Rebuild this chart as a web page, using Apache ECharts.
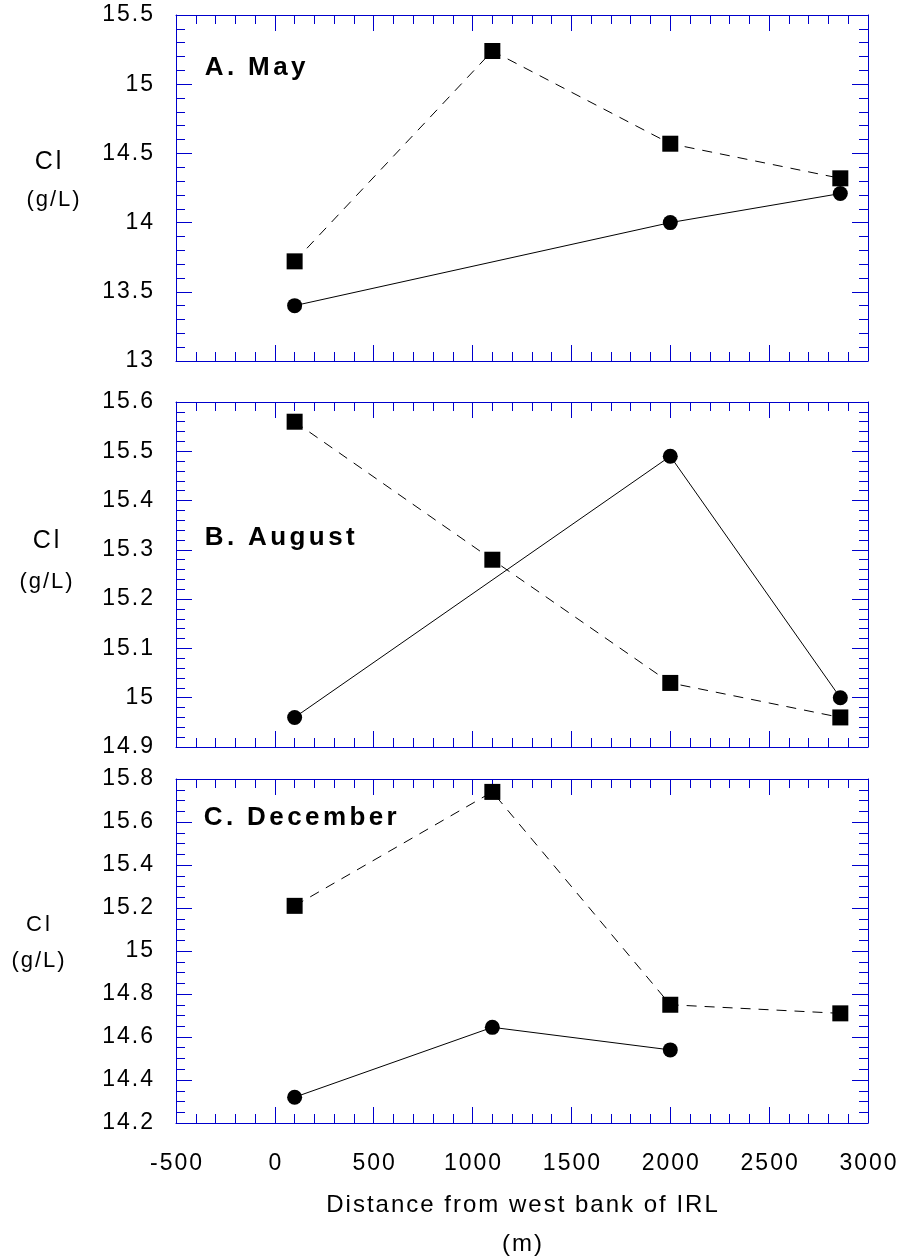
<!DOCTYPE html>
<html>
<head>
<meta charset="utf-8">
<script src="https://cdn.jsdelivr.net/npm/echarts@6/dist/echarts.min.js"></script>
<style>
  html, body { margin: 0; padding: 0; background: #ffffff; }
  #chart { width: 902px; height: 1260px; }
</style>
</head>
<body>
<div id="chart"></div>
<script>
// Sampling stations across the lagoon (m from the west bank)
const distance = [100, 1100, 2000, 2860];

// Cl (g/L), squares = dashed series, circles = solid series
const maySquares = [13.72, 15.24, 14.57, 14.32];
const mayCircles = [13.40, null, 14.00, 14.21];
const augSquares = [15.56, 15.28, 15.03, 14.96];
const augCircles = [14.96, null, 15.49, 15.00];
const decSquares = [15.21, 15.74, 14.75, 14.71];
const decCircles = [14.32, 14.645, 14.54, null];

const panelTitles = ['A. May', 'B. August', 'C. December'];
const yName = 'Cl';
const yUnit = '(g/L)';
const xName = 'Distance from west bank of IRL';
const xUnit = '(m)';

// Axis ranges for each panel
const xRange = { min: -500, max: 3000, interval: 500 };
const yRanges = [
  { min: 13, max: 15.5, interval: 0.5, minor: 5 },
  { min: 14.9, max: 15.6, interval: 0.1, minor: 5 },
  { min: 14.2, max: 15.8, interval: 0.2, minor: 4 }
];

const FONT = 'Liberation Sans, Arial, Helvetica, sans-serif';
const AXIS_BLUE = '#0000cc';

// Spread characters apart with rich-text padding (letter spacing)
function spaced(text, style) {
  return text.split('').map(function (c) { return '{' + style + '|' + c + '}'; }).join('');
}

function fmt(v) {
  return String(parseFloat(Number(v).toFixed(3)));
}

const richStyles = {
  t: { fontFamily: FONT, fontSize: 23, color: '#000', padding: [0, 1, 0, 1] },
  n: { fontFamily: FONT, fontSize: 24, color: '#000', padding: [0, 1, 0, 1], lineHeight: 39 },
  h: { fontFamily: FONT, fontSize: 26, fontWeight: 'bold', color: '#000', padding: [0, 1.7, 0, 1.7] },
  c: { fontFamily: FONT, fontSize: 25, color: '#000', padding: [0, 1.5, 0, 1.5] },
  c2: { fontFamily: FONT, fontSize: 22, color: '#000', padding: [0, 1.5, 0, 1.5] },
  u: { fontFamily: FONT, fontSize: 22, color: '#000', padding: [0, 1, 0, 1] }
};

// Three stacked panels; fixed boxes, no automatic shrinking for labels
const grids = [
  { left: 176, top: 15, width: 692, height: 346, outerBoundsMode: 'none', containLabel: false },
  { left: 176, top: 402, width: 692, height: 345, outerBoundsMode: 'none', containLabel: false },
  { left: 176, top: 779, width: 692, height: 344, outerBoundsMode: 'none', containLabel: false }
];

const tickLine = { color: AXIS_BLUE, width: 1 };

function xAxisFor(i, position, labelled) {
  const ax = {
    type: 'value', gridIndex: i, position: position,
    min: xRange.min, max: xRange.max, interval: xRange.interval,
    axisLine: { show: true, onZero: false, lineStyle: tickLine },
    axisTick: { show: true, inside: true, length: 16, lineStyle: tickLine },
    minorTick: { show: true, splitNumber: 5, length: 9, lineStyle: tickLine },
    splitLine: { show: false },
    minorSplitLine: { show: false },
    axisLabel: { show: false }
  };
  if (labelled) {
    ax.axisLabel = {
      show: true, margin: 29,
      formatter: function (v) { return spaced(fmt(v), 't'); },
      rich: richStyles
    };
    ax.name = spaced(xName, 'n') + '\n' + spaced(xUnit, 'n');
    ax.nameLocation = 'middle';
    ax.nameGap = 63;
    ax.nameTextStyle = { rich: richStyles, lineHeight: 39 };
  }
  return ax;
}

function yAxisFor(i, position, labelled) {
  const r = yRanges[i];
  const ax = {
    type: 'value', gridIndex: i, position: position,
    min: r.min, max: r.max, interval: r.interval,
    axisLine: { show: true, onZero: false, lineStyle: tickLine },
    axisTick: { show: true, inside: true, length: 16, lineStyle: tickLine },
    minorTick: { show: true, splitNumber: r.minor, length: 9, lineStyle: tickLine },
    splitLine: { show: false },
    minorSplitLine: { show: false },
    axisLabel: { show: false }
  };
  if (labelled) {
    ax.axisLabel = {
      show: true, margin: 22,
      formatter: function (v) { return spaced(fmt(v), 't'); },
      rich: richStyles
    };
  }
  return ax;
}

const xAxes = [], yAxes = [];
for (let i = 0; i < 3; i++) {
  xAxes.push(xAxisFor(i, 'bottom', i === 2));
  xAxes.push(xAxisFor(i, 'top', false));
  yAxes.push(yAxisFor(i, 'left', true));
  yAxes.push(yAxisFor(i, 'right', false));
}

function pairs(vals) {
  return distance.map(function (d, j) { return [d, vals[j]]; }).filter(function (p) { return p[1] !== null; });
}

function squareSeries(i, vals) {
  return {
    type: 'line', xAxisIndex: i * 2, yAxisIndex: i * 2,
    data: pairs(vals),
    symbol: 'rect', symbolSize: 16,
    itemStyle: { color: '#000' },
    lineStyle: { color: '#000', width: 1, type: [10, 8] },
    z: 3
  };
}
function circleSeries(i, vals) {
  return {
    type: 'line', xAxisIndex: i * 2, yAxisIndex: i * 2,
    data: pairs(vals),
    symbol: 'circle', symbolSize: 15,
    itemStyle: { color: '#000' },
    lineStyle: { color: '#000', width: 1, type: 'solid' },
    z: 3
  };
}

const series = [
  squareSeries(0, maySquares), circleSeries(0, mayCircles),
  squareSeries(1, augSquares), circleSeries(1, augCircles),
  squareSeries(2, decSquares), circleSeries(2, decCircles)
];

// Panel titles and y-axis names as free text
function label(text, style, x, y) {
  return {
    type: 'text', x: x, y: y,
    style: { text: spaced(text, style), rich: richStyles, align: 'center', verticalAlign: 'middle' }
  };
}
function titleText(text, x, y) {
  return {
    type: 'text', x: x, y: y,
    style: { text: spaced(text, 'h'), rich: richStyles, align: 'left', verticalAlign: 'middle' }
  };
}

const graphics = [
  titleText(panelTitles[0], 203, 68),
  titleText(panelTitles[1], 203, 538),
  titleText(panelTitles[2], 202, 818),
  label(yName, 'c', 48, 162),
  label(yUnit, 'u', 53, 200),
  label(yName, 'c', 46, 541),
  label(yUnit, 'u', 46, 582),
  label(yName, 'c2', 38, 925),
  label(yUnit, 'u', 38, 961)
];

const chart = echarts.init(document.getElementById('chart'), null, { renderer: 'canvas' });
chart.setOption({
  animation: false,
  backgroundColor: '#ffffff',
  grid: grids,
  xAxis: xAxes,
  yAxis: yAxes,
  series: series,
  graphic: graphics
});
</script>
</body>
</html>
